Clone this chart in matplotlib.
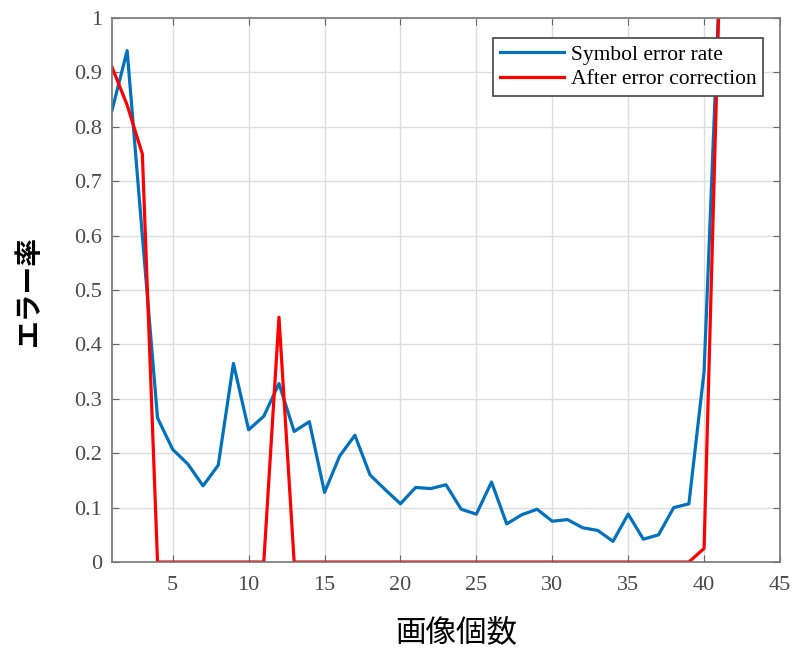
import numpy as np
import matplotlib
matplotlib.use('Agg')
import matplotlib.pyplot as plt

# image index
images = list(range(1, 42))

# symbol error rate (blue)
ser = [0.83, 0.94, 0.60, 0.265, 0.207, 0.18, 0.14, 0.178, 0.365, 0.243,
       0.268, 0.328, 0.24, 0.258, 0.128, 0.195, 0.233, 0.16, 0.133, 0.107,
       0.137, 0.135, 0.142, 0.097, 0.088, 0.147, 0.07, 0.087, 0.097, 0.075,
       0.078, 0.063, 0.058, 0.038, 0.088, 0.042, 0.05, 0.10, 0.107, 0.35,
       1.05]

# after error correction (red)
corrected = [0.91, 0.84, 0.75, 0, 0, 0, 0, 0, 0, 0,
             0, 0.45, 0, 0, 0, 0, 0, 0, 0, 0,
             0, 0, 0, 0, 0, 0, 0, 0, 0, 0,
             0, 0, 0, 0, 0, 0, 0, 0, 0, 0.025,
             1.05]

xticks = [5, 10, 15, 20, 25, 30, 35, 40, 45]
yticks = [0, 0.1, 0.2, 0.3, 0.4, 0.5, 0.6, 0.7, 0.8, 0.9, 1]
ytick_labels = ['0', '0.1', '0.2', '0.3', '0.4', '0.5', '0.6', '0.7', '0.8', '0.9', '1']

cjk = ['Noto Sans CJK JP', 'DejaVu Sans']

fig = plt.figure(figsize=(7.93, 6.48), dpi=100)
ax = fig.add_axes([0.1412, 0.1327, 0.8424, 0.8395])

ax.plot(images, ser, color='#0072BD', lw=2.3, label='Symbol error rate')
ax.plot(images, corrected, color='#FF0000', lw=2.3, label='After error correction')

ax.set_xlim(1, 45)
ax.set_ylim(0, 1)
ax.set_xticks(xticks)
ax.set_yticks(yticks)
ax.set_yticklabels(ytick_labels)
ax.grid(True, color='#dddddd', lw=1)
ax.set_axisbelow(True)

for lab in ax.get_xticklabels() + ax.get_yticklabels():
    lab.set_fontfamily('Liberation Serif')
    lab.set_fontsize(16)
    lab.set_color('#4a4a4a')

ax.tick_params(direction='in', top=True, right=True, length=5, color='#666666', pad=7)
ax.tick_params(axis='x', pad=10)
for s in ax.spines.values():
    s.set_color('#777777')
    s.set_linewidth(1.2)

ax.set_xlabel('画像個数', fontfamily=cjk, fontsize=22, va='center')
ax.xaxis.set_label_coords(0.516, -0.129)
ax.set_ylabel('エラー率', fontfamily=cjk, fontsize=20, fontweight='bold', va='center')
ax.yaxis.set_label_coords(-0.124, 0.50)

leg = ax.legend(loc='upper right', bbox_to_anchor=(0.9746, 0.963),
                prop={'family': 'Liberation Serif', 'size': 15.5},
                fancybox=False, framealpha=1, edgecolor='#444444',
                handlelength=3.0, handletextpad=0.3, borderpad=0.3,
                labelspacing=0.2, borderaxespad=0)
leg.get_frame().set_linewidth(1.2)

fig.savefig('out.png', dpi=100)
